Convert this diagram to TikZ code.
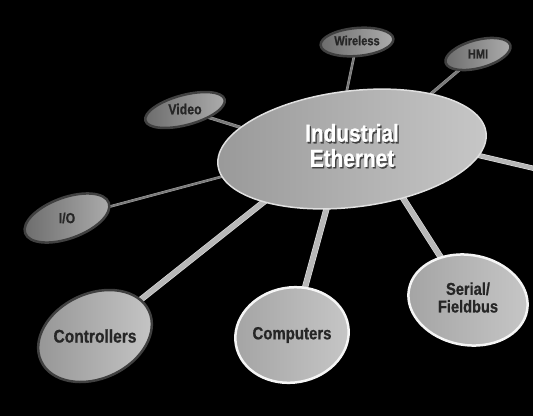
\documentclass[tikz,border=0pt]{standalone}
\usepackage{fontspec}
\newfontfamily\hubfont{Liberation Sans}[FakeStretch=0.85,FakeBold=0.8]
\usetikzlibrary{shapes.geometric}
\pgfdeclarelayer{back}
\pgfsetlayers{back,main}
\newcommand\castshadow[1]{\makebox[0pt][l]{\kern1.3pt\raisebox{-1.6pt}{\textcolor{black!75}{#1}}}#1}
\begin{document}
\begin{tikzpicture}[x=1pt,y=-1pt,
  hub/.style={ellipse,inner sep=0pt,font=\hubfont\bfseries,text=black!85},
  fs/.style={font=\hubfont\bfseries\fontsize{#1}{#1}\selectfont},
  dark/.style={hub,draw=black!75,line width=2.5pt,left color=black!58,right color=black!32},
  lite/.style={hub,draw=black!75,line width=2.5pt,left color=black!42,right color=black!22},
  pale/.style={hub,draw=black!4,line width=2.5pt,left color=black!36,right color=black!22},
  link/.style={line width=#1,draw=black!28,preaction={draw=black!12,line width=#1+1.2pt}},
  wire/.style={line width=#1,draw=black!52,preaction={draw=black!38,line width=#1+1pt}}]
      \useasboundingbox (0,0) rectangle (533,416);
      \node[hub,draw=black!12,line width=1.5pt,left color=black!40,right color=black!22,
            minimum width=270pt,minimum height=116pt,rotate=7,text=white,fs=24.5] (enet) at (352,149)
            {\rotatebox{-7}{\begin{tabular}{@{}c@{}}\castshadow{Industrial}\\\castshadow{Ethernet}\end{tabular}}};
      \node[dark,minimum width=73pt,minimum height=28pt,rotate=5,fs=13] (wireless) at (357,42) {\rotatebox{-5}{\raisebox{3pt}{Wireless}}};
      \node[dark,minimum width=67pt,minimum height=28pt,rotate=15,fs=13] (hmi) at (478,54) {\rotatebox{-15}{HMI}};
      \node[dark,minimum width=82pt,minimum height=30pt,rotate=15,fs=14.5] (video) at (185,110) {\rotatebox{-15}{\raisebox{2pt}{Video}}};
      \node[dark,minimum width=89pt,minimum height=41pt,rotate=20,fs=14.5] (io) at (67,218) {\rotatebox{-20}{I/O}};
      \node[lite,minimum width=119pt,minimum height=85pt,rotate=25,fs=18.3] (ctrl) at (95,336) {\rotatebox{-25}{Controllers}};
      \node[pale,minimum width=112pt,minimum height=95pt,rotate=10,fs=17.6] (comp) at (292,335) {\rotatebox{-10}{Computers}};
      \node[pale,minimum width=120pt,minimum height=90pt,rotate=-10,fs=17.2] (serial) at (468,300)
            {\rotatebox{10}{\begin{tabular}{@{}c@{}}Serial/\\Fieldbus\end{tabular}}};
      \coordinate (rim) at (545,171);
      \begin{pgfonlayer}{back}
      \fill[black] (0,0) rectangle (533,416);
      \draw[wire=1.6pt,shorten >=-6pt] (wireless.center) -- (enet.88);
      \draw[wire=2.2pt,shorten >=-6pt] (hmi.center) -- (enet.28);
      \draw[wire=2.2pt,shorten >=-6pt] (video.center) -- (enet.162);
      \draw[wire=1.6pt,shorten >=-6pt] (io.center) -- (enet.185);
      \draw[link=5pt,shorten >=-6pt] (ctrl.center) -- (enet.204);
      \draw[link=5pt,shorten >=-6pt] (comp.center) -- (enet.240);
      \draw[link=5pt,shorten >=-6pt] (serial.center) -- (enet.309);
      \draw[link=4pt,shorten <=-6pt] (enet.-10) -- (rim);
      \end{pgfonlayer}
\end{tikzpicture}
\end{document}
